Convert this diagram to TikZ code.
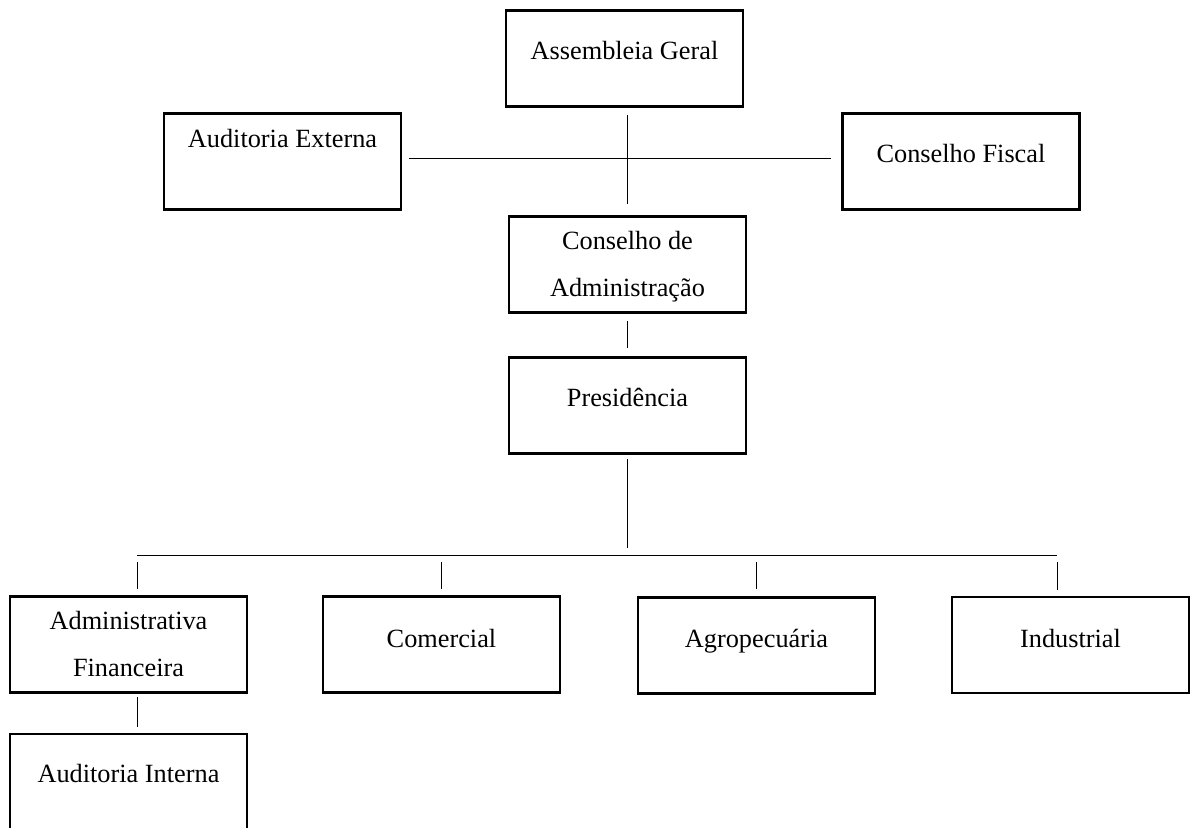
\documentclass[tikz,border=0pt]{standalone}
\usepackage{fontspec}
\setmainfont{Liberation Serif}
\begin{document}
\begin{tikzpicture}[x=0.5pt, y=-0.5pt,
  every node/.style={font=\fontsize{13.15}{15}\selectfont},
  box/.style={draw, line width=1.25pt, inner sep=0pt, outer sep=0pt,
              minimum width=118.5pt, minimum height=48pt},
  lbl/.style={anchor=base, inner sep=0pt, outer sep=0pt},
  conn/.style={line width=0.5pt}]
  \useasboundingbox (0,0) rectangle (1190,828);
  \clip (0,0) rectangle (1190,828);

  % boxes
  \node[box] (ag)   at (624.5,58.5)  {};
  \node[box] (ae)   at (282.5,161.5) {};
  \node[box] (cf)   at (961,161.5)   {};
  \node[box] (ca)   at (627.5,264.5) {};
  \node[box] (pr)   at (627.5,405.5) {};
  \node[box] (af)   at (128.5,644.5) {};
  \node[box] (co)   at (441.5,644.5) {};
  \node[box] (agro) at (756.5,645.5) {};
  \node[box] (ind)  at (1070.5,645)  {};
  \node[box] (ai)   at (128.5,782)   {};

  % labels
  \node[lbl] (ag-t)   at (624.5,60)  {Assembleia Geral};
  \node[lbl] (ae-t)   at (282.5,148) {Auditoria Externa};
  \node[lbl] (cf-t)   at (961,163)   {Conselho Fiscal};
  \node[lbl] (ca-t1)  at (627.5,250) {Conselho de};
  \node[lbl] (ca-t2)  at (627.5,297) {Administração};
  \node[lbl] (pr-t)   at (627.5,407) {Presidência};
  \node[lbl] (af-t1)  at (128.5,630) {Administrativa};
  \node[lbl] (af-t2)  at (128.5,677) {Financeira};
  \node[lbl] (co-t)   at (441.5,647) {Comercial};
  \node[lbl] (agro-t) at (756.5,647) {Agropecuária};
  \node[lbl] (ind-t)  at (1070.5,647) {Industrial};
  \node[lbl] (ai-t)   at (128.5,783) {Auditoria Interna};

  % bus under the presidency
  \coordinate (busL) at (137,556);
  \coordinate (busR) at (1057,556);
  \coordinate (busM) at (627.5,548);

  % connectors
  \draw[conn, shorten <=4.25pt, shorten >=6pt] (ca.north |- ag.south) -- (ca.north);
  \draw[conn, shorten <=4pt, shorten >=6pt] ([yshift=1.25pt]ae.east) -- ([yshift=1.25pt]cf.west);
  \draw[conn, shorten <=4.5pt, shorten >=4.5pt] (ca.south) -- (pr.north);
  \draw[conn, shorten <=3pt] (pr.south) -- (busM);
  \draw[conn] (busL) -- (busR);
  \draw[conn, shorten <=3pt, shorten >=3.5pt] (busL) -- (busL |- af.north);
  \draw[conn, shorten <=3pt, shorten >=3.5pt] (co.north |- busL) -- (co.north);
  \draw[conn, shorten <=3pt, shorten >=4pt] (agro.north |- busL) -- (agro.north);
  \draw[conn, shorten <=3pt, shorten >=3.5pt] (busR) -- (busR |- ind.north);
  \draw[conn, shorten <=2.5pt, shorten >=3.5pt] (busL |- af.south) -- (busL |- ai.north);
\end{tikzpicture}
\end{document}
